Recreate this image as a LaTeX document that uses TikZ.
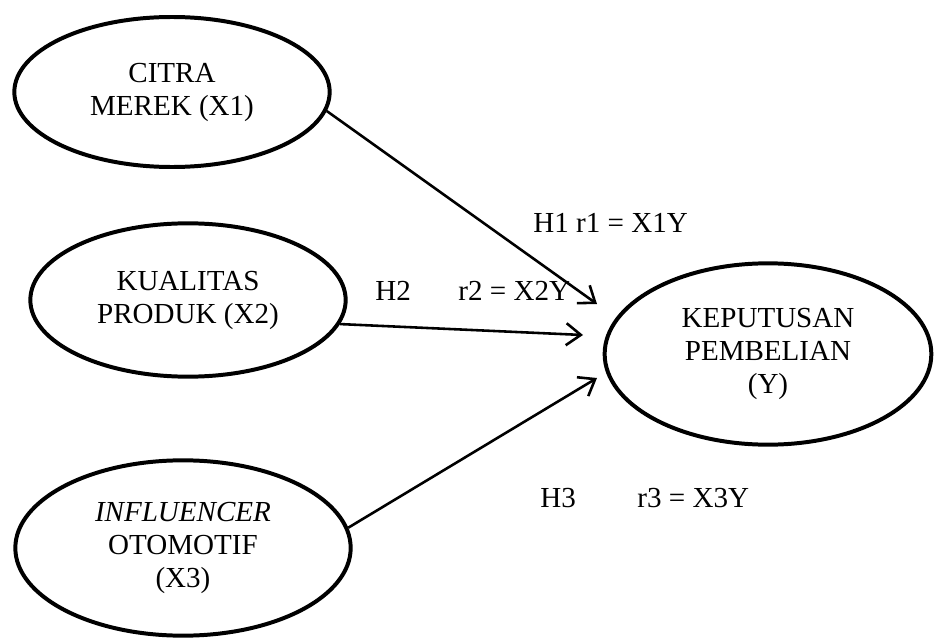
\documentclass[tikz,border=0pt]{standalone}
\usepackage{fontspec}
\setmainfont{Liberation Serif}
\usetikzlibrary{arrows.meta,shapes.geometric,positioning}

\begin{document}
\begin{tikzpicture}[x=0.015cm,y=-0.015cm,
    font=\fontsize{12.4}{14.1}\selectfont]
    \tikzstyle{var}=[ellipse, draw, line width=1.7pt, inner sep=0pt, align=center]
    \tikzstyle{arr}=[line width=1.1pt, -{Straight Barb[length=0.22cm,width=0.33cm,line width=1.1pt]}]
    \tikzstyle{lbl}=[inner sep=0pt, anchor=base west]
    \useasboundingbox (0,0) rectangle (934,641);

    \node[var, minimum width=4.73cm, minimum height=2.25cm] (x1) at (172,92) {CITRA\\MEREK (X1)};
    \node[var, minimum width=4.73cm, minimum height=2.3cm]  (x2) at (188,300) {KUALITAS\\PRODUK (X2)};
    \node[var, minimum width=5.03cm, minimum height=2.63cm] (x3) at (183,548) {\textit{INFLUENCER}\\OTOMOTIF\\(X3)};
    \node[var, minimum width=4.9cm, minimum height=2.72cm]  (y) at (768,354) {KEPUTUSAN\\PEMBELIAN\\(Y)};

    % ujung panah
    \coordinate (t1) at (597,304);
    \coordinate (t2) at (583,335);
    \coordinate (t3) at (597,378);

    \draw[arr] (x1.-7) -- (t1);
    \draw[arr] (x2.-9) -- (t2);
    \draw[arr] (x3.7) -- (t3);

    \node[lbl] (h1) at (533,232) {H1 r1 = X1Y};
    \node[lbl] (h2) at (375,300) {H2};
    \node[lbl] (r2) at (458,300) {r2 = X2Y};
    \node[lbl] (h3) at (540,507) {H3};
    \node[lbl] (r3) at (637,507) {r3 = X3Y};
\end{tikzpicture}
\end{document}
